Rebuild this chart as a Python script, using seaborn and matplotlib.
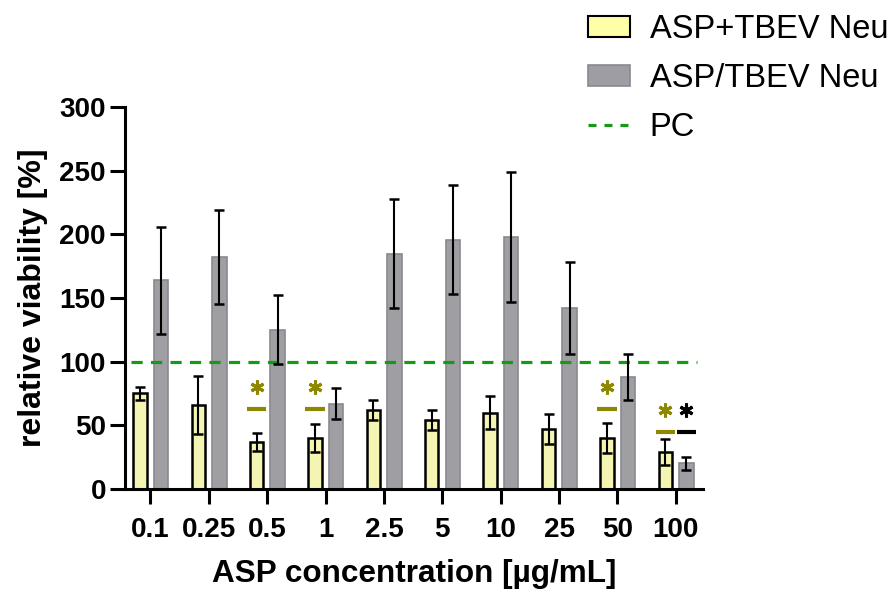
import numpy as np
import pandas as pd
import matplotlib
matplotlib.use("Agg")
import matplotlib.pyplot as plt
import seaborn as sns
from matplotlib.patches import Patch
from matplotlib.lines import Line2D

# values
concentrations = ['0.1', '0.25', '0.5', '1', '2.5', '5', '10', '25', '50', '100']
combined_mean = [75, 66, 37, 40, 62, 54, 60, 47, 40, 29]
combined_err = [5, 23, 7, 11, 8, 8, 13, 12, 12, 10]
separate_mean = [164, 182, 125, 67, 185, 196, 198, 142, 88, 20]
separate_err = [42, 37, 27, 12, 43, 43, 51, 36, 18, 5]
groups = ['ASP+TBEV Neu', 'ASP/TBEV Neu']

# significance marks: (concentration, group index, line height, star height)
sig_marks = [('0.5', 0, 63, 80), ('1', 0, 63, 80), ('50', 0, 63, 80),
             ('100', 0, 45, 62), ('100', 1, 45, 62)]

yellow = '#FFFFA8'
grey = '#9E9DA4'
olive = '#8C8800'
green = '#169A16'

df = pd.DataFrame({
    'conc': concentrations * 2,
    'value': combined_mean + separate_mean,
    'group': [groups[0]] * len(concentrations) + [groups[1]] * len(concentrations),
})

sns.set_style('ticks')
plt.rcParams['font.family'] = ['Liberation Sans', 'DejaVu Sans']
plt.rcParams['text.color'] = 'black'
plt.rcParams['axes.labelcolor'] = 'black'

fig = plt.figure(figsize=(8.89, 5.89), dpi=100)
ax = fig.add_axes([0.141, 0.170, 0.65, 0.648])

sns.barplot(data=df, x='conc', y='value', hue='group', order=concentrations,
            hue_order=groups, palette=[yellow, grey], errorbar=None,
            width=0.72, legend=False, ax=ax)

errs = [combined_err, separate_err]
means = [combined_mean, separate_mean]
centers = {}
bar_sets = list(ax.containers)
for gi, cont in enumerate(bar_sets):
    for ci, p in enumerate(cont.patches):
        cx = p.get_x() + p.get_width() / 2
        w = 0.23 if gi == 0 else 0.25
        p.set_x(cx - w / 2)
        p.set_width(w)
        if gi == 0:
            p.set_edgecolor('black')
            p.set_linewidth(1.8)
        else:
            p.set_edgecolor('#8A8990')
            p.set_linewidth(1.2)
        centers[(concentrations[ci], gi)] = cx
        ax.errorbar(cx, means[gi][ci], yerr=errs[gi][ci], color='black',
                    elinewidth=1.5, capsize=3.5, capthick=1.8, zorder=5)

ax.axhline(100, color=green, lw=2.3, dashes=(3.5, 2.6), zorder=4,
           xmin=0.01, xmax=0.99)

for conc, gi, yline, ystar in sig_marks:
    cx = centers[(conc, gi)]
    col = olive if gi == 0 else 'black'
    ax.plot([cx - 0.165, cx + 0.165], [yline, yline], color=col, lw=3,
            solid_capstyle='butt')
    ax.plot(cx, ystar, marker=(6, 2, 0), ms=10, mew=2.2, color=col,
            linestyle='none')

ax.set_ylim(0, 300)
ax.set_xlim(-0.43, 9.47)
ax.set_yticks(np.arange(0, 301, 50))
ax.set_xlabel('ASP concentration [µg/mL]', fontsize=22.7, fontweight='bold',
              labelpad=12)
ax.set_ylabel('relative viability [%]', fontsize=23, fontweight='bold',
              labelpad=8)
ax.tick_params(axis='both', labelsize=20, width=2.2, length=11,
               color='black', labelcolor='black')
ax.tick_params(axis='x', pad=9)
ax.tick_params(axis='y', pad=3)
for lab in ax.get_xticklabels() + ax.get_yticklabels():
    lab.set_fontweight('bold')
for s in ['top', 'right']:
    ax.spines[s].set_visible(False)
for s in ['left', 'bottom']:
    ax.spines[s].set_linewidth(2.2)
    ax.spines[s].set_color('black')

handles = [Patch(facecolor=yellow, edgecolor='black', linewidth=1.5),
           Patch(facecolor=grey, edgecolor='#8A8990', linewidth=1.2),
           Line2D([0], [0], color=green, lw=2.3, dashes=(2.5, 2.5))]
fig.legend(handles, groups + ['PC'], loc='upper left',
           bbox_to_anchor=(0.661, 0.976), frameon=False, fontsize=23.5,
           borderaxespad=0, borderpad=0,
           handlelength=1.3, handleheight=0.6, labelspacing=0.55,
           handletextpad=0.6)

fig.savefig('out.png', dpi=100)
